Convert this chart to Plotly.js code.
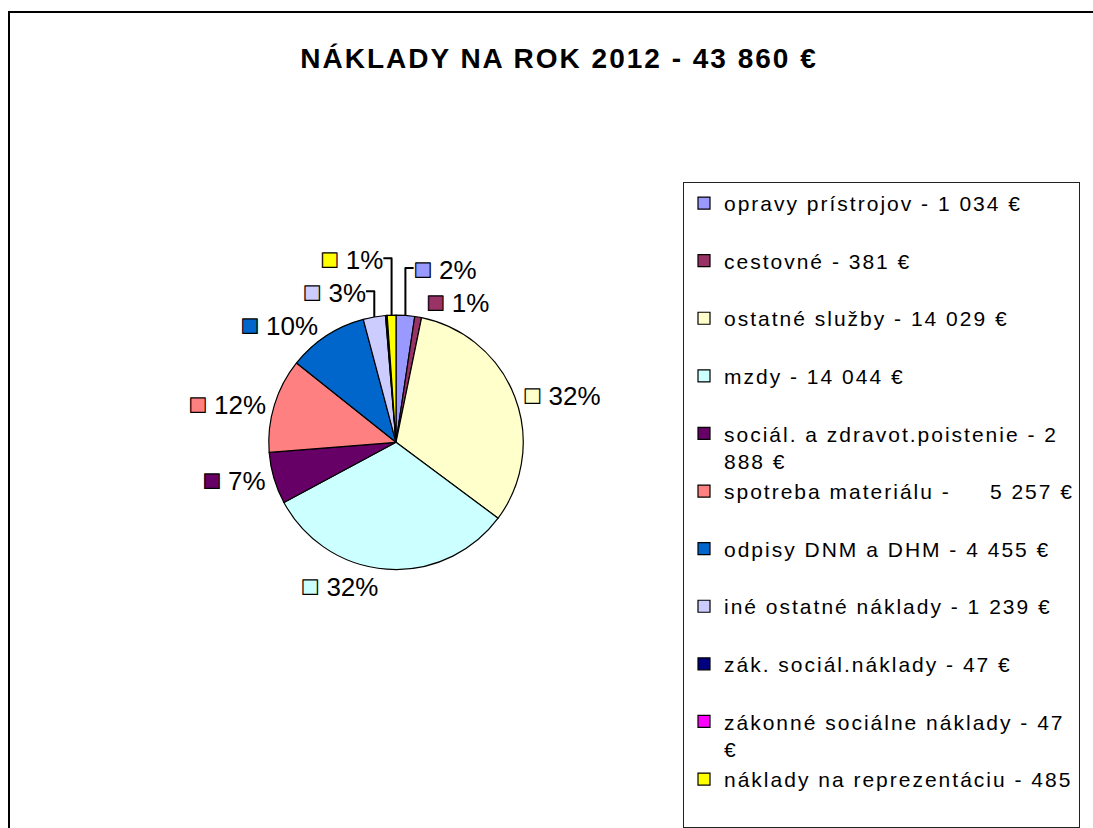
<!DOCTYPE html>
<html>
<head>
<meta charset="utf-8">
<script src="https://cdn.plot.ly/plotly-3.0.1.min.js"></script>
<style>
  html, body { margin: 0; padding: 0; background: #fff; overflow: hidden; }
  #chart { position: absolute; left: 0; top: 0; width: 1093px; height: 828px; }
  #frame { position: absolute; left: 8px; top: 11px; width: 1200px; height: 1000px;
           border-left: 2px solid #000; border-top: 2px solid #000; pointer-events: none; }
</style>
</head>
<body>
<div id="chart"></div>
<div id="frame"></div>
<script>
const titleText = "NÁKLADY NA ROK 2012 - 43 860 €";

const categories = [
  "opravy prístrojov - 1 034 €",
  "cestovné - 381 €",
  "ostatné služby - 14 029 €",
  "mzdy - 14 044 €",
  "sociál. a zdravot.poistenie - 2<br>888 €",
  "spotreba materiálu -\u00a0\u00a0\u00a0\u00a0 5 257 €",
  "odpisy DNM a DHM - 4 455 €",
  "iné ostatné náklady - 1 239 €",
  "zák. sociál.náklady - 47 €",
  "zákonné sociálne náklady - 47<br>€",
  "náklady na reprezentáciu - 485"
];

const values = [1034, 381, 14029, 14044, 2888, 5257, 4455, 1239, 47, 47, 485];

const colors = ["#9999FF", "#993366", "#FFFFCC", "#CCFFFF", "#660066", "#FF8080",
                "#0066CC", "#CCCCFF", "#000080", "#FF00FF", "#FFFF00"];

const FONT = "Liberation Sans, Arial, sans-serif";
const spaced = s => '<span style="letter-spacing:2px">' + s.split("<br>").join('</span><br><span style="letter-spacing:2px">') + '</span>';

// legend entries: pad single-line entries with a blank second line
const legendLabels = categories.map(c => c.indexOf("<br>") >= 0 ? spaced(c) : spaced(c) + "<br>\u00a0");

const total = values.reduce((a, b) => a + b, 0);
const labelText = values.map((v, i) => {
  const p = Math.round(v / total * 100);
  if (p === 0) return "";
  return '<span style="fill:' + colors[i] + ';stroke:#000;stroke-width:1.2px;font-size:30px">■</span> ' + p + '%';
});

const W = 1093, H = 828;
const cx = 396, cy = 445, r = 128;

const trace = {
  type: "pie",
  labels: legendLabels,
  values: values,
  text: labelText,
  texttemplate: "%{text}",
  textinfo: "text",
  textposition: "outside",
  sort: false,
  direction: "clockwise",
  rotation: 0,
  marker: { colors: colors, line: { color: "#000", width: 1.2 } },
  outsidetextfont: { family: FONT, size: 26, color: "#000" },
  hoverinfo: "none",
  domain: {
    x: [(cx - r) / W, (cx + r) / W],
    y: [(H - cy - r) / H, (H - cy + r) / H]
  }
};

const layout = {
  width: W,
  height: H,
  margin: { l: 0, r: 0, t: 0, b: 0 },
  paper_bgcolor: "#fff",
  font: { family: FONT, size: 21, color: "#000" },
  title: {
    text: '<b><span style="letter-spacing:2px">' + titleText + '</span></b>',
    font: { family: FONT, size: 28, color: "#000" },
    x: 559 / W, xanchor: "center",
    y: 1 - 58 / H, yanchor: "middle"
  },
  showlegend: true,
  legend: {
    x: 683 / W, xanchor: "left",
    y: 1 - 183 / H, yanchor: "top",
    bordercolor: "#222",
    borderwidth: 1,
    bgcolor: "#fff",
    valign: "top",
    font: { family: FONT, size: 21, color: "#000" },
    traceorder: "normal"
  }
};

Plotly.newPlot("chart", [trace], layout, { displayModeBar: false, staticPlot: true });
</script>
</body>
</html>
